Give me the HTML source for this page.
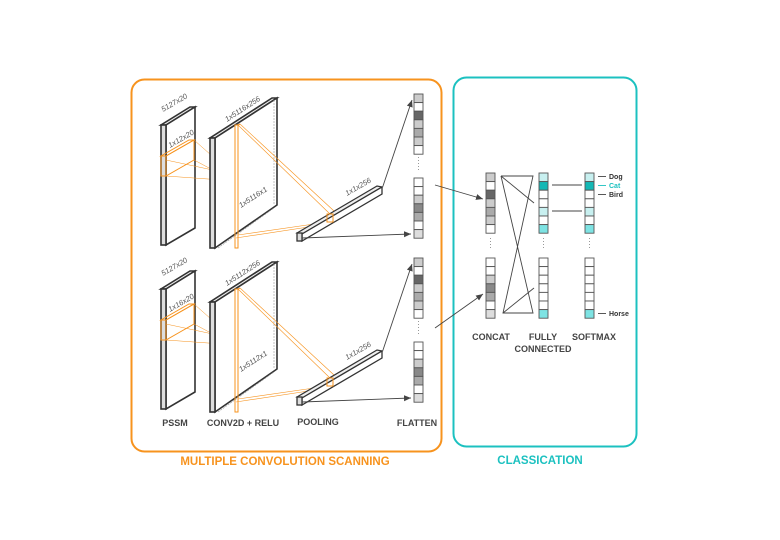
<!DOCTYPE html>
<html><head><meta charset="utf-8"><style>
html,body{margin:0;padding:0;background:#fff;}
svg{display:block;font-family:"Liberation Sans",sans-serif;}
.b{font-weight:bold;font-size:9px;fill:#444;}
.it{font-style:italic;font-size:7.5px;fill:#555;}
</style></head><body>
<svg width="780" height="540" viewBox="0 0 780 540" xmlns="http://www.w3.org/2000/svg">
<defs>
<marker id="ar" markerWidth="8" markerHeight="8" refX="7" refY="4" orient="auto" markerUnits="userSpaceOnUse"><path d="M0,1 L7,4 L0,7z" fill="#444"/></marker>
<g id="half">
 <polygon points="161,125 166,125 195,107 190,107" fill="#eee" stroke="#333" stroke-width="1.6"/>
 <polygon points="166,125 195,107 195,228 166,245" fill="#fff" stroke="#333" stroke-width="1.6"/>
 <rect x="161" y="125" width="5" height="120" fill="#ddd" stroke="#333" stroke-width="1.6"/>
 <g stroke="#f7931e" fill="none" stroke-width="1">
  <polygon points="161,156 166,156 194,140 189,140"/>
  <rect x="161" y="156" width="5" height="20"/>
  <polygon points="166,156 194,140 194,160 166,176"/>
  <line x1="194" y1="140" x2="228" y2="170" stroke-width="0.5"/>
  <line x1="194" y1="160" x2="228" y2="178" stroke-width="0.5"/>
  <line x1="166" y1="176" x2="222" y2="180" stroke-width="0.5"/>
  <line x1="166" y1="160" x2="222" y2="172" stroke-width="0.5"/>
  <rect x="222" y="172" width="3" height="8"/>
  <polygon points="222,172 225,172 228,170 225,170"/>
  <polygon points="225,172 228,170 228,178 225,180"/>
 </g>
 <polygon points="210,138 215,138 277,98 272,98" fill="#eee" stroke="#333" stroke-width="1.6"/>
 <polygon points="215,138 277,98 277,205 215,248" fill="#fff" stroke="#333" stroke-width="1.6"/>
 <rect x="210" y="138" width="5" height="110" fill="#ddd" stroke="#333" stroke-width="1.6"/>
 <line x1="274" y1="100" x2="274" y2="205" stroke="#999" stroke-width="0.6" stroke-dasharray="2,1"/>
 <line x1="218" y1="248" x2="274" y2="208" stroke="#999" stroke-width="0.6" stroke-dasharray="2,1"/>
 <g stroke="#f7931e" fill="none" stroke-width="1">
  <rect x="235" y="125" width="3" height="123"/>
  <line x1="238" y1="125" x2="240" y2="124"/>
  <line x1="238" y1="125" x2="330" y2="214" stroke-width="0.6"/>
  <line x1="240" y1="124" x2="334" y2="211" stroke-width="0.6"/>
  <line x1="238" y1="235" x2="328" y2="222" stroke-width="0.6"/>
  <line x1="236" y1="238" x2="328" y2="224" stroke-width="0.6"/>
 </g>
 <polygon points="297,233 377,186 382,187 302,234" fill="#eee" stroke="#333" stroke-width="1.3"/>
 <polygon points="302,234 382,187 382,194 302,241" fill="#fff" stroke="#333" stroke-width="1.3"/>
 <rect x="297" y="233" width="5" height="8" fill="#ddd" stroke="#333" stroke-width="1.3"/>
 <rect x="327" y="214" width="6" height="8" fill="none" stroke="#f7931e" stroke-width="1"/>
 <line x1="383" y1="186" x2="412" y2="100" stroke="#444" stroke-width="0.9" marker-end="url(#ar)"/>
 <line x1="302" y1="238" x2="411" y2="234" stroke="#444" stroke-width="0.9" marker-end="url(#ar)"/>
 <line x1="418.5" y1="157" x2="418.5" y2="171" stroke="#999" stroke-dasharray="1,2"/>
</g>
</defs>

<rect x="131.5" y="79.5" width="310" height="372" rx="13" fill="none" stroke="#f7931e" stroke-width="2"/>
<rect x="453.5" y="77.5" width="183" height="369" rx="13" fill="none" stroke="#1cc1c0" stroke-width="2"/>
<text x="285" y="465" text-anchor="middle" font-weight="bold" font-size="11.5" fill="#f7931e">MULTIPLE CONVOLUTION SCANNING</text>
<text x="540" y="464" text-anchor="middle" font-weight="bold" font-size="11.5" fill="#1cc1c0">CLASSICATION</text>

<use href="#half"/>
<use href="#half" transform="translate(0,164)"/>

<text class="it" transform="translate(163,112) rotate(-30)">5127x20</text>
<text class="it" transform="translate(170,148) rotate(-30)">1x12x20</text>
<text class="it" transform="translate(227,122) rotate(-33)">1x5116x256</text>
<text class="it" transform="translate(241,208) rotate(-33)">1x5116x1</text>
<text class="it" transform="translate(347,196) rotate(-30)">1x1x256</text>
<text class="it" transform="translate(163,276) rotate(-30)">5127x20</text>
<text class="it" transform="translate(170,312) rotate(-30)">1x16x20</text>
<text class="it" transform="translate(227,286) rotate(-33)">1x5112x256</text>
<text class="it" transform="translate(241,372) rotate(-33)">1x5112x1</text>
<text class="it" transform="translate(347,360) rotate(-30)">1x1x256</text>

<g stroke="#555" stroke-width="0.9">
 <rect x="414" y="94" width="9" height="8.6" fill="#ccc"/><rect x="414" y="102.6" width="9" height="8.6" fill="#fff"/><rect x="414" y="111.2" width="9" height="8.6" fill="#666"/><rect x="414" y="119.8" width="9" height="8.6" fill="#ccc"/><rect x="414" y="128.4" width="9" height="8.6" fill="#aaa"/><rect x="414" y="137" width="9" height="8.6" fill="#ccc"/><rect x="414" y="145.6" width="9" height="8.6" fill="#fff"/>
 <rect x="414" y="178" width="9" height="8.6" fill="#fff"/><rect x="414" y="186.6" width="9" height="8.6" fill="#fff"/><rect x="414" y="195.2" width="9" height="8.6" fill="#ccc"/><rect x="414" y="203.8" width="9" height="8.6" fill="#888"/><rect x="414" y="212.4" width="9" height="8.6" fill="#aaa"/><rect x="414" y="221" width="9" height="8.6" fill="#fff"/><rect x="414" y="229.6" width="9" height="8.6" fill="#ddd"/>
 <rect x="414" y="258" width="9" height="8.6" fill="#ccc"/><rect x="414" y="266.6" width="9" height="8.6" fill="#fff"/><rect x="414" y="275.2" width="9" height="8.6" fill="#666"/><rect x="414" y="283.8" width="9" height="8.6" fill="#ccc"/><rect x="414" y="292.4" width="9" height="8.6" fill="#aaa"/><rect x="414" y="301" width="9" height="8.6" fill="#ccc"/><rect x="414" y="309.6" width="9" height="8.6" fill="#fff"/>
 <rect x="414" y="342" width="9" height="8.6" fill="#fff"/><rect x="414" y="350.6" width="9" height="8.6" fill="#fff"/><rect x="414" y="359.2" width="9" height="8.6" fill="#ccc"/><rect x="414" y="367.8" width="9" height="8.6" fill="#888"/><rect x="414" y="376.4" width="9" height="8.6" fill="#aaa"/><rect x="414" y="385" width="9" height="8.6" fill="#fff"/><rect x="414" y="393.6" width="9" height="8.6" fill="#ddd"/>
</g>

<line x1="435" y1="185" x2="483" y2="199" stroke="#444" stroke-width="0.9" marker-end="url(#ar)"/>
<line x1="435" y1="328" x2="483" y2="294" stroke="#444" stroke-width="0.9" marker-end="url(#ar)"/>

<g stroke="#555" stroke-width="0.9">
 <rect x="486" y="173" width="9" height="8.6" fill="#ccc"/><rect x="486" y="181.6" width="9" height="8.6" fill="#fff"/><rect x="486" y="190.2" width="9" height="8.6" fill="#666"/><rect x="486" y="198.8" width="9" height="8.6" fill="#ccc"/><rect x="486" y="207.4" width="9" height="8.6" fill="#aaa"/><rect x="486" y="216" width="9" height="8.6" fill="#ccc"/><rect x="486" y="224.6" width="9" height="8.6" fill="#fff"/>
 <rect x="486" y="258" width="9" height="8.6" fill="#fff"/><rect x="486" y="266.6" width="9" height="8.6" fill="#fff"/><rect x="486" y="275.2" width="9" height="8.6" fill="#ccc"/><rect x="486" y="283.8" width="9" height="8.6" fill="#888"/><rect x="486" y="292.4" width="9" height="8.6" fill="#aaa"/><rect x="486" y="301" width="9" height="8.6" fill="#fff"/><rect x="486" y="309.6" width="9" height="8.6" fill="#ddd"/>
</g>
<line x1="490.5" y1="238" x2="490.5" y2="250" stroke="#999" stroke-dasharray="1,2"/>
<g stroke="#555" stroke-width="0.9">
 <rect x="539" y="173" width="9" height="8.6" fill="#c8f0f0"/><rect x="539" y="181.6" width="9" height="8.6" fill="#14b8b5"/><rect x="539" y="190.2" width="9" height="8.6" fill="#fff"/><rect x="539" y="198.8" width="9" height="8.6" fill="#fff"/><rect x="539" y="207.4" width="9" height="8.6" fill="#c8f0f0"/><rect x="539" y="216" width="9" height="8.6" fill="#fff"/><rect x="539" y="224.6" width="9" height="8.6" fill="#7ee3e3"/>
 <rect x="539" y="258" width="9" height="8.6" fill="#fff"/><rect x="539" y="266.6" width="9" height="8.6" fill="#fff"/><rect x="539" y="275.2" width="9" height="8.6" fill="#fff"/><rect x="539" y="283.8" width="9" height="8.6" fill="#fff"/><rect x="539" y="292.4" width="9" height="8.6" fill="#fff"/><rect x="539" y="301" width="9" height="8.6" fill="#fff"/><rect x="539" y="309.6" width="9" height="8.6" fill="#7ee3e3"/>
 <rect x="585" y="173" width="9" height="8.6" fill="#c8f0f0"/><rect x="585" y="181.6" width="9" height="8.6" fill="#14b8b5"/><rect x="585" y="190.2" width="9" height="8.6" fill="#fff"/><rect x="585" y="198.8" width="9" height="8.6" fill="#fff"/><rect x="585" y="207.4" width="9" height="8.6" fill="#c8f0f0"/><rect x="585" y="216" width="9" height="8.6" fill="#fff"/><rect x="585" y="224.6" width="9" height="8.6" fill="#7ee3e3"/>
 <rect x="585" y="258" width="9" height="8.6" fill="#fff"/><rect x="585" y="266.6" width="9" height="8.6" fill="#fff"/><rect x="585" y="275.2" width="9" height="8.6" fill="#fff"/><rect x="585" y="283.8" width="9" height="8.6" fill="#fff"/><rect x="585" y="292.4" width="9" height="8.6" fill="#fff"/><rect x="585" y="301" width="9" height="8.6" fill="#fff"/><rect x="585" y="309.6" width="9" height="8.6" fill="#7ee3e3"/>
</g>
<line x1="543.5" y1="238" x2="543.5" y2="250" stroke="#999" stroke-dasharray="1,2"/>
<line x1="589.5" y1="238" x2="589.5" y2="250" stroke="#999" stroke-dasharray="1,2"/>
<g stroke="#444" stroke-width="0.9" fill="none">
 <polyline points="501,176 533,176 503,313 533,313 501,176"/>
 <line x1="501" y1="176" x2="534" y2="203"/>
 <line x1="503" y1="313" x2="534" y2="288"/>
 <line x1="552" y1="185" x2="582" y2="185"/>
 <line x1="552" y1="211" x2="582" y2="211"/>
 <line x1="598" y1="176.5" x2="606" y2="176.5"/>
 <line x1="598" y1="185.5" x2="606" y2="185.5" stroke="#1cc1c0"/>
 <line x1="598" y1="194.5" x2="606" y2="194.5"/>
 <line x1="598" y1="313.5" x2="606" y2="313.5"/>
</g>
<text x="609" y="179" font-size="7" font-weight="bold" fill="#333">Dog</text>
<text x="609" y="188" font-size="7" font-weight="bold" fill="#1cc1c0">Cat</text>
<text x="609" y="197" font-size="7" font-weight="bold" fill="#333">Bird</text>
<text x="609" y="316" font-size="7" font-weight="bold" fill="#333">Horse</text>

<text class="b" x="175" y="426" text-anchor="middle">PSSM</text>
<text class="b" x="243" y="426" text-anchor="middle">CONV2D + RELU</text>
<text class="b" x="318" y="425" text-anchor="middle">POOLING</text>
<text class="b" x="417" y="426" text-anchor="middle">FLATTEN</text>
<text class="b" x="491" y="340" text-anchor="middle">CONCAT</text>
<text class="b" x="543" y="340" text-anchor="middle">FULLY</text>
<text class="b" x="543" y="352" text-anchor="middle">CONNECTED</text>
<text class="b" x="594" y="340" text-anchor="middle">SOFTMAX</text>
</svg>
</body></html>
